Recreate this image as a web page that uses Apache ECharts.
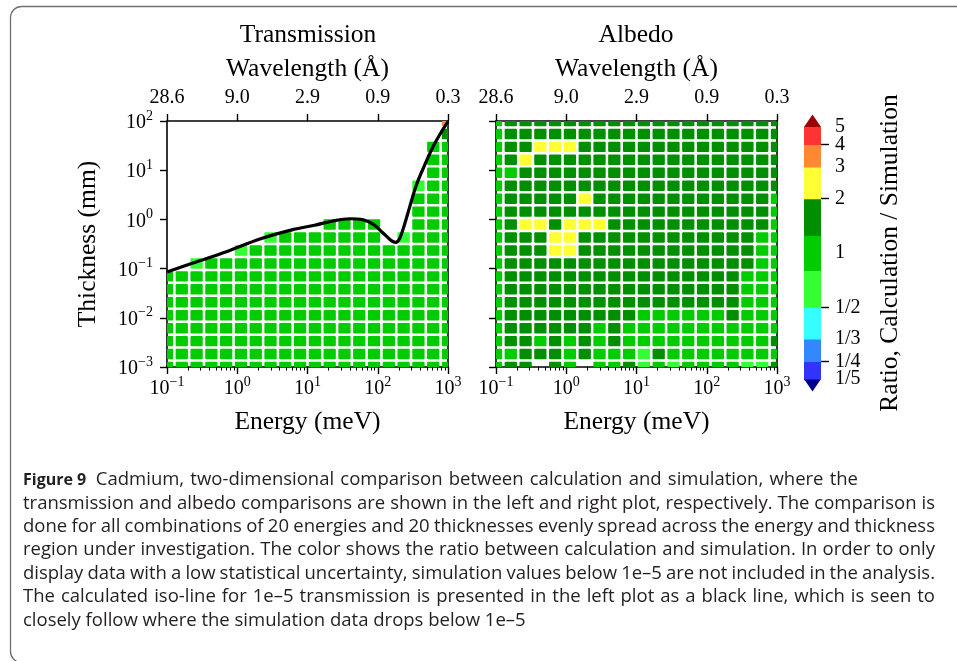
<!DOCTYPE html>
<html>
<head>
<meta charset="utf-8">
<script src="https://cdn.jsdelivr.net/npm/echarts@6/dist/echarts.min.js"></script>
<style>
  html, body { margin: 0; padding: 0; background: #ffffff; }
  #chart { width: 957px; height: 661px; }
</style>
</head>
<body>
<div id="chart"></div>
<script>
// Grid of 20 energies (meV) and 20 thicknesses (mm), log-spaced
const energies = [0.1, 0.16238, 0.26367, 0.42813, 0.69519, 1.1288, 1.8330, 2.9764, 4.8329, 7.8476,
                  12.743, 20.691, 33.598, 54.556, 88.587, 143.84, 233.57, 379.27, 615.85, 1000];
const thicknesses = [0.001, 0.0018330, 0.0033598, 0.0061585, 0.011288, 0.020691, 0.037927, 0.069519, 0.12743, 0.23357,
                     0.42813, 0.78476, 1.4384, 2.6367, 4.8329, 8.8587, 16.238, 29.764, 54.556, 100];

// Axis ticks
const energyTicks = [0.1, 1, 10, 100, 1000];
const energyMinorTicks = [0.2, 0.3, 0.4, 0.5, 0.6, 0.7, 0.8, 0.9,
                          2, 3, 4, 5, 6, 7, 8, 9,
                          20, 30, 40, 50, 60, 70, 80, 90,
                          200, 300, 400, 500, 600, 700, 800, 900];
const wavelengthLabels = ['28.6', '9.0', '2.9', '0.9', '0.3'];
const thicknessTicks = [0.001, 0.01, 0.1, 1, 10, 100];

// Ratio colour scale: one colour below the first edge, one per band, one above the last edge
const ratioEdges = [0.2, 0.25, 1 / 3, 0.5, 0.8, 1.25, 2, 3, 4, 5];
const ratioColors = ['#00008f', '#3333ff', '#3388ff', '#33ffff', '#33ff33', '#00cc00',
                     '#008f00', '#ffff33', '#ff8833', '#ff3333', '#9a0000'];
const colorbarTicks = [0.2, 0.25, 1 / 3, 0.5, 1, 2, 3, 4, 5];
const colorbarTickLabels = ['1/5', '1/4', '1/3', '1/2', '1', '2', '3', '4', '5'];

// 1e-5 transmission iso-line
const isoEnergy    = [0.1, 0.234, 0.70, 2.1, 6.2, 12.6, 23, 40, 62, 86, 119, 156, 180, 205, 240, 285, 355, 466, 612, 805, 1000];
const isoThickness = [0.085, 0.13, 0.22, 0.40, 0.62, 0.76, 0.93, 1.03, 0.98, 0.80, 0.53, 0.37, 0.34, 0.41, 0.78, 1.8, 5.0, 12.8, 30, 60, 97];

// Ratio calculation / simulation, rows from the thickest (top) to the thinnest (bottom),
// columns from the lowest to the highest energy; null = simulation below 1e-5
const transmissionRatio = [
  [null, null, null, null, null, null, null, null, null, null, null, null, null, null, null, null, null, null, null, 3.5],
  [null, null, null, null, null, null, null, null, null, null, null, null, null, null, null, null, null, null, null, 1.6],
  [null, null, null, null, null, null, null, null, null, null, null, null, null, null, null, null, null, null, 1.0, 1.0],
  [null, null, null, null, null, null, null, null, null, null, null, null, null, null, null, null, null, null, 1.0, 1.0],
  [null, null, null, null, null, null, null, null, null, null, null, null, null, null, null, null, null, null, 1.0, 1.0],
  [null, null, null, null, null, null, null, null, null, null, null, null, null, null, null, null, null, 0.7, 1.0, 1.0],
  [null, null, null, null, null, null, null, null, null, null, null, null, null, null, null, null, null, 1.0, 1.0, 1.0],
  [null, null, null, null, null, null, null, null, null, null, null, null, null, null, null, null, null, 1.0, 1.0, 1.0],
  [null, null, null, null, null, null, null, null, null, null, null, 1.0, 1.0, 1.0, 1.0, null, null, 1.0, 1.0, 1.0],
  [null, null, null, null, null, null, null, 0.7, 1.0, 1.0, 1.0, 1.0, 1.0, 1.0, 1.0, null, 0.7, 1.0, 1.0, 1.0],
  [null, null, null, null, null, 0.7, 1.0, 1.0, 1.0, 1.0, 1.0, 1.0, 1.0, 1.0, 1.0, 1.0, 1.0, 1.0, 1.0, 1.0],
  [null, null, 0.7, 1.0, 1.0, 1.0, 1.0, 1.0, 1.0, 1.0, 1.0, 1.0, 1.0, 1.0, 1.0, 1.0, 1.0, 1.0, 1.0, 1.0],
  [1.0, 1.0, 1.0, 1.0, 1.0, 1.0, 1.0, 1.0, 1.0, 1.0, 1.0, 1.0, 1.0, 1.0, 1.0, 1.0, 1.0, 1.0, 1.0, 1.0],
  [1.0, 1.0, 1.0, 1.0, 1.0, 1.0, 1.0, 1.0, 1.0, 1.0, 1.0, 1.0, 1.0, 1.0, 1.0, 1.0, 1.0, 1.0, 1.0, 1.0],
  [1.0, 1.0, 1.0, 1.0, 1.0, 1.0, 1.0, 1.0, 1.0, 1.0, 1.0, 1.0, 1.0, 1.0, 1.0, 1.0, 1.0, 1.0, 1.0, 1.0],
  [1.0, 1.0, 1.0, 1.0, 1.0, 1.0, 1.0, 1.0, 1.0, 1.0, 1.0, 1.0, 1.0, 1.0, 1.0, 1.0, 1.0, 1.0, 1.0, 1.0],
  [1.0, 1.0, 1.0, 1.0, 1.0, 1.0, 1.0, 1.0, 1.0, 1.0, 1.0, 1.0, 1.0, 1.0, 1.0, 1.0, 1.0, 1.0, 1.0, 1.0],
  [1.0, 1.0, 1.0, 1.0, 1.0, 1.0, 1.0, 1.0, 1.0, 1.0, 1.0, 1.0, 1.0, 1.0, 1.0, 1.0, 1.0, 1.0, 1.0, 1.0],
  [1.0, 1.0, 1.0, 1.0, 1.0, 1.0, 1.0, 1.0, 1.0, 1.0, 1.0, 1.0, 1.0, 1.0, 1.0, 1.0, 1.0, 1.0, 1.0, 1.0],
  [1.0, 1.0, 1.0, 1.0, 1.0, 1.0, 1.0, 1.0, 1.0, 1.0, 1.0, 1.0, 1.0, 1.0, 1.0, 1.0, 1.0, 1.0, 1.0, 1.0]
];

const albedoRatio = [
  [1.0, 1.6, 1.6, 1.6, 1.6, 1.6, 1.6, 1.6, 1.6, 1.6, 1.6, 1.6, 1.6, 1.6, 1.6, 1.6, 1.6, 1.6, 1.6, 1.6],
  [1.0, 1.6, 1.6, 1.6, 1.6, 1.6, 1.6, 1.6, 1.6, 1.6, 1.6, 1.6, 1.6, 1.6, 1.6, 1.6, 1.6, 1.6, 1.6, 1.6],
  [1.0, 1.6, 1.6, 2.4, 2.4, 2.4, 1.6, 1.6, 1.6, 1.6, 1.6, 1.6, 1.6, 1.6, 1.6, 1.6, 1.6, 1.6, 1.6, 1.6],
  [1.0, 1.6, 2.4, 1.6, 1.6, 1.6, 1.6, 1.6, 1.6, 1.6, 1.6, 1.6, 1.6, 1.6, 1.6, 1.6, 1.6, 1.6, 1.6, 1.6],
  [1.0, 1.0, 1.6, 1.6, 1.6, 1.6, 1.6, 1.6, 1.6, 1.6, 1.6, 1.6, 1.6, 1.6, 1.6, 1.6, 1.6, 1.6, 1.6, 1.6],
  [1.0, 1.6, 1.6, 1.6, 1.6, 1.6, 1.6, 1.6, 1.6, 1.6, 1.6, 1.6, 1.6, 1.6, 1.6, 1.6, 1.6, 1.6, 1.6, 1.6],
  [1.0, 1.6, 1.6, 1.6, 1.6, 1.6, 2.4, 1.6, 1.6, 1.6, 1.6, 1.6, 1.6, 1.6, 1.6, 1.6, 1.6, 1.6, 1.6, 1.0],
  [1.0, 1.6, 1.6, 1.6, 1.6, 1.6, 1.6, 1.6, 1.6, 1.6, 1.6, 1.6, 1.6, 1.6, 1.6, 1.6, 1.6, 1.6, 1.6, 1.0],
  [1.0, 1.6, 2.4, 2.4, 1.6, 2.4, 2.4, 2.4, 1.6, 1.6, 1.6, 1.6, 1.6, 1.6, 1.6, 1.6, 1.6, 1.6, 1.6, 1.0],
  [1.0, 1.6, 1.6, 1.6, 2.4, 2.4, 1.6, 1.6, 1.6, 1.6, 1.6, 1.6, 1.6, 1.6, 1.6, 1.6, 1.6, 1.6, 1.0, 1.0],
  [1.0, 1.6, 1.6, 1.6, 2.4, 2.4, 1.6, 1.6, 1.6, 1.6, 1.6, 1.6, 1.6, 1.6, 1.6, 1.6, 1.6, 1.6, 1.0, 1.0],
  [1.0, 1.6, 1.6, 1.6, 1.6, 1.6, 1.6, 1.6, 1.6, 1.6, 1.6, 1.6, 1.6, 1.6, 1.6, 1.6, 1.6, 1.6, 1.0, 1.0],
  [1.0, 1.6, 1.6, 1.6, 1.6, 1.6, 1.6, 1.6, 1.6, 1.6, 1.6, 1.6, 1.6, 1.6, 1.6, 1.6, 1.6, 1.0, 1.0, 1.0],
  [1.0, 1.6, 1.6, 1.6, 1.6, 1.6, 1.6, 1.6, 1.6, 1.6, 1.6, 1.6, 1.6, 1.6, 1.6, 1.6, 1.6, 1.0, 1.0, 1.0],
  [1.0, 1.6, 1.6, 1.6, 1.6, 1.6, 1.6, 1.6, 1.6, 1.6, 1.6, 1.6, 1.6, 1.6, 1.6, 1.6, 1.6, 1.0, 1.0, 1.0],
  [1.0, 1.6, 1.6, 1.6, 1.6, 1.6, 1.6, 1.6, 1.6, 1.6, 1.0, 1.0, 1.0, 1.0, 1.0, 1.0, 1.6, 1.0, 1.0, 1.0],
  [1.0, 1.6, 1.6, 1.6, 1.6, 1.6, 1.6, 1.0, 1.6, 1.0, 1.0, 1.0, 1.0, 1.0, 1.0, 1.0, 1.0, 1.0, 1.0, 1.0],
  [1.0, 1.6, 1.6, 1.0, 1.6, 1.0, 1.6, 1.0, 1.6, 1.0, 1.0, 1.0, 1.0, 1.0, 1.0, 1.0, 1.0, 1.0, 1.0, 1.6],
  [1.0, 1.0, 1.6, 1.6, 1.6, 1.0, 1.6, 1.0, 1.0, 1.0, 0.7, 1.6, 1.0, 1.0, 1.0, 1.0, 1.0, 1.0, 1.0, 1.0],
  [1.0, 1.6, 1.6, null, 1.6, 1.0, null, 1.0, 1.0, 1.6, 0.7, 1.0, 0.7, 1.0, 1.0, 1.0, 1.0, 0.7, 0.7, 1.6]
];

const captionTitle = 'Figure 9';
const captionLines = [
  'Cadmium, two-dimensional comparison between calculation and simulation, where the',
  'transmission and albedo comparisons are shown in the left and right plot, respectively. The comparison is',
  'done for all combinations of 20 energies and 20 thicknesses evenly spread across the energy and thickness',
  'region under investigation. The color shows the ratio between calculation and simulation. In order to only',
  'display data with a low statistical uncertainty, simulation values below 1e\u20135 are not included in the analysis.',
  'The calculated iso-line for 1e\u20135 transmission is presented in the left plot as a black line, which is seen to',
  'closely follow where the simulation data drops below 1e\u20135'
];

// ---------------------------------------------------------------------------
const SERIF = '"Liberation Serif", "DejaVu Serif", serif';
const SANS = '"Open Sans", "Noto Sans", sans-serif';
const LABEL_SIZE = 20;
const NAME_SIZE = 25.5;
const CELL_GAP = 1.25;
const CAPTION_SIZE = 18.5;
const CAPTION_BOLD_SIZE = 16;
const CAPTION_LEFT = 23;
const CAPTION_RIGHT = 935;
const CAPTION_FIRST_RIGHT = 858;
const CAPTION_TOP = 480;
const CAPTION_LEADING = 23.4;
const CAPTION_COLOR = '#231f20';

function toCells(matrix) {
  const out = [];
  const rows = matrix.length;
  matrix.forEach(function (row, r) {
    const j = rows - 1 - r;
    row.forEach(function (v, i) {
      if (v !== null) out.push([energies[i], thicknesses[j], v, i, j]);
    });
  });
  return out;
}

// Cell borders sit half-way (in log space) between neighbouring grid values
function cellEdges(arr, k) {
  const n = arr.length;
  const lo = k > 0 ? Math.sqrt(arr[k - 1] * arr[k]) : arr[0] * Math.sqrt(arr[0] / arr[1]);
  const hi = k < n - 1 ? Math.sqrt(arr[k] * arr[k + 1]) : arr[n - 1] * Math.sqrt(arr[n - 1] / arr[n - 2]);
  return [lo, hi];
}

function renderCell(params, api) {
  const i = api.value(3);
  const j = api.value(4);
  const ex = cellEdges(energies, i);
  const ty = cellEdges(thicknesses, j);
  const p0 = api.coord([ex[0], ty[1]]);
  const p1 = api.coord([ex[1], ty[0]]);
  const cs = params.coordSys;
  const shape = echarts.graphic.clipRectByRect(
    { x: p0[0] + CELL_GAP, y: p0[1] + CELL_GAP,
      width: p1[0] - p0[0] - 2 * CELL_GAP, height: p1[1] - p0[1] - 2 * CELL_GAP },
    { x: cs.x, y: cs.y, width: cs.width, height: cs.height });
  if (!shape) return;
  shape.r = 1;
  return { type: 'rect', shape: shape, style: { fill: api.visual('color') } };
}

// Colour bar: one rectangle per band, triangles for the open-ended extremes
const colorbarData = ratioColors.map(function (c, k) {
  const lo = k === 0 ? ratioEdges[0] : ratioEdges[k - 1];
  const hi = k === ratioEdges.length ? ratioEdges[ratioEdges.length - 1] : ratioEdges[k];
  return [0.5, lo, hi, k];
});

function renderColorbar(params, api) {
  const cs = params.coordSys;
  const k = api.value(3);
  const yLo = api.coord([0.5, api.value(1)])[1];
  const yHi = api.coord([0.5, api.value(2)])[1];
  const x0 = cs.x, x1 = cs.x + cs.width, xm = cs.x + cs.width / 2;
  const tri = 0.05 * cs.height;
  const fill = ratioColors[k];
  if (k === 0) {
    return { type: 'polygon', shape: { points: [[x0, yLo], [x1, yLo], [xm, yLo + tri]] }, style: { fill: fill } };
  }
  if (k === ratioColors.length - 1) {
    return { type: 'polygon', shape: { points: [[x0, yHi], [x1, yHi], [xm, yHi - tri]] }, style: { fill: fill } };
  }
  return { type: 'rect', shape: { x: x0, y: yHi, width: cs.width, height: yLo - yHi + 0.5 }, style: { fill: fill } };
}

function powerLabel(v) {
  const e = Math.round(Math.log10(v));
  return '{b|10}{s|' + (e < 0 ? '\u2212' : '') + Math.abs(e) + '}';
}
const powerRich = {
  b: { fontFamily: SERIF, fontSize: LABEL_SIZE, color: '#000', verticalAlign: 'bottom' },
  s: { fontFamily: SERIF, fontSize: 14, color: '#000', verticalAlign: 'bottom', padding: [0, 0, 10, 0] }
};

function findIndex(list, v) {
  for (let k = 0; k < list.length; k++) {
    if (Math.abs(list[k] - v) / list[k] < 1e-4) return k;
  }
  return -1;
}

const axisLineStyle = { color: '#000', width: 1.6 };
const tickLineStyle = { color: '#000', width: 1.4 };
const nameStyle = { fontFamily: SERIF, fontSize: NAME_SIZE, color: '#000' };

function energyAxis(gridIndex, withLabels) {
  return {
    gridIndex: gridIndex, type: 'log', logBase: 10, min: 0.1, max: 1000, position: 'bottom',
    axisLine: { show: true, onZero: false, lineStyle: axisLineStyle },
    axisTick: { show: true, inside: false, length: 7, lineStyle: tickLineStyle, customValues: energyTicks },
    axisLabel: { show: withLabels, customValues: energyTicks, formatter: powerLabel, rich: powerRich, margin: 8,
                 hideOverlap: false },
    splitLine: { show: false }, minorTick: { show: false },
    name: 'Energy (meV)', nameLocation: 'middle', nameGap: 42, nameTextStyle: nameStyle, nameMoveOverlap: false
  };
}
function energyMinorAxis(gridIndex) {
  return {
    gridIndex: gridIndex, type: 'log', logBase: 10, min: 0.1, max: 1000, position: 'bottom',
    axisLine: { show: false },
    axisTick: { show: true, inside: false, length: 3.5, lineStyle: { color: '#000', width: 1 }, customValues: energyMinorTicks },
    axisLabel: { show: false }, splitLine: { show: false }
  };
}
function wavelengthAxis(gridIndex) {
  return {
    gridIndex: gridIndex, type: 'log', logBase: 10, min: 0.1, max: 1000, position: 'top',
    axisLine: { show: true, onZero: false, lineStyle: axisLineStyle },
    axisTick: { show: true, inside: false, length: 7, lineStyle: tickLineStyle, customValues: energyTicks },
    axisLabel: {
      show: true, customValues: energyTicks, margin: 13, hideOverlap: false,
      fontFamily: SERIF, fontSize: LABEL_SIZE, color: '#000',
      formatter: function (v) { return wavelengthLabels[findIndex(energyTicks, v)]; }
    },
    splitLine: { show: false },
    name: 'Wavelength (\u00c5)', nameLocation: 'middle', nameGap: 39, nameTextStyle: nameStyle, nameMoveOverlap: false
  };
}
function thicknessAxis(gridIndex, withLabels) {
  const ax = {
    gridIndex: gridIndex, type: 'log', logBase: 10, min: 0.001, max: 100, position: 'left',
    axisLine: { show: true, onZero: false, lineStyle: axisLineStyle },
    axisTick: { show: true, inside: false, length: 7, lineStyle: tickLineStyle, customValues: thicknessTicks },
    axisLabel: { show: withLabels, customValues: thicknessTicks, formatter: powerLabel, rich: powerRich, margin: 14,
                 hideOverlap: false },
    splitLine: { show: false }
  };
  if (withLabels) {
    ax.name = 'Thickness (mm)';
    ax.nameLocation = 'middle';
    ax.nameRotate = 90;
    ax.nameGap = 66;
    ax.nameTextStyle = nameStyle;
    ax.nameMoveOverlap = false;
  }
  return ax;
}
function spineAxis(gridIndex) {
  return {
    gridIndex: gridIndex, type: 'log', logBase: 10, min: 0.001, max: 100, position: 'right',
    axisLine: { show: true, onZero: false, lineStyle: axisLineStyle },
    axisTick: { show: false }, axisLabel: { show: false }, splitLine: { show: false }
  };
}
// The colour-bar ticks are shared between two overlaid axes (alternate ticks),
// so neighbouring labels near the ends are never dropped as overlapping
function colorbarAxis(parity, withName) {
  const values = colorbarTicks.filter(function (t, k) { return k % 2 === parity; });
  const ax = {
    gridIndex: 2, type: 'log', logBase: 10, min: 0.19995, max: 5.0005, position: 'right',
    axisLine: { show: false },
    axisTick: { show: true, inside: false, length: 8, lineStyle: tickLineStyle, customValues: values },
    axisLabel: {
      show: true, customValues: values, margin: 14, hideOverlap: false,
      fontFamily: SERIF, fontSize: LABEL_SIZE, color: '#000',
      formatter: function (v) { return colorbarTickLabels[findIndex(colorbarTicks, v)]; }
    },
    splitLine: { show: false }
  };
  if (withName) {
    ax.name = 'Ratio, Calculation / Simulation';
    ax.nameLocation = 'middle';
    ax.nameRotate = 90;
    ax.nameGap = 56;
    ax.nameTextStyle = nameStyle;
    ax.nameMoveOverlap = false;
  }
  return ax;
}

const visualPieces = ratioColors.map(function (c, k) {
  const p = { color: c };
  if (k > 0) p.gte = ratioEdges[k - 1];
  if (k < ratioEdges.length) p.lt = ratioEdges[k];
  return p;
});

// Caption: justified paragraph, words placed one by one
const measureCtx = document.createElement('canvas').getContext('2d');
function textWidth(str, size, weight) {
  measureCtx.font = (weight || 'normal') + ' ' + size + 'px ' + SANS;
  return measureCtx.measureText(str).width;
}
function captionText(str, x, y, size, weight) {
  return {
    type: 'text', x: x, y: y, silent: true,
    style: { text: str, fontFamily: SANS, fontSize: size, fontWeight: weight || 'normal',
             fill: CAPTION_COLOR, align: 'left', verticalAlign: 'middle' }
  };
}
const captionGraphics = [];
captionLines.forEach(function (line, k) {
  const y = CAPTION_TOP + k * CAPTION_LEADING;
  const words = line.split(' ');
  let x = CAPTION_LEFT;
  let right = CAPTION_RIGHT;
  if (k === 0) {
    captionGraphics.push(captionText(captionTitle, x, y, CAPTION_BOLD_SIZE, 'bold'));
    x += textWidth(captionTitle, CAPTION_BOLD_SIZE, 'bold') + 2 * textWidth(' ', CAPTION_SIZE);
    right = CAPTION_FIRST_RIGHT;
  }
  const justify = k < captionLines.length - 1;
  const widths = words.map(function (w) { return textWidth(w, CAPTION_SIZE); });
  const total = widths.reduce(function (a, b) { return a + b; }, 0);
  const space = justify ? (right - x - total) / (words.length - 1) : textWidth(' ', CAPTION_SIZE);
  words.forEach(function (w, m) {
    captionGraphics.push(captionText(w, x, y, CAPTION_SIZE));
    x += widths[m] + space;
  });
});

const chart = echarts.init(document.getElementById('chart'), null, { renderer: 'canvas' });
chart.setOption({
  animation: false,
  backgroundColor: '#ffffff',
  textStyle: { fontFamily: SERIF, color: '#000' },
  grid: [
    { left: 167, top: 121, width: 281, height: 246, outerBoundsMode: 'none', containLabel: false },
    { left: 496, top: 121, width: 281, height: 246, outerBoundsMode: 'none', containLabel: false },
    { left: 804, top: 127, width: 17, height: 252, outerBoundsMode: 'none', containLabel: false }
  ],
  xAxis: [
    energyAxis(0, true), energyMinorAxis(0), wavelengthAxis(0),
    energyAxis(1, true), energyMinorAxis(1), wavelengthAxis(1),
    { gridIndex: 2, type: 'value', min: 0, max: 1, show: false }
  ],
  yAxis: [
    thicknessAxis(0, true), spineAxis(0),
    thicknessAxis(1, false), spineAxis(1),
    colorbarAxis(0, true), colorbarAxis(1, false)
  ],
  visualMap: {
    type: 'piecewise', show: false, dimension: 2, seriesIndex: [0, 1], pieces: visualPieces
  },
  series: [
    {
      type: 'custom', name: 'Transmission', xAxisIndex: 0, yAxisIndex: 0,
      dimensions: ['energy', 'thickness', 'ratio', 'i', 'j'], encode: { x: 0, y: 1 },
      renderItem: renderCell, data: toCells(transmissionRatio), z: 2
    },
    {
      type: 'custom', name: 'Albedo', xAxisIndex: 3, yAxisIndex: 2,
      dimensions: ['energy', 'thickness', 'ratio', 'i', 'j'], encode: { x: 0, y: 1 },
      renderItem: renderCell, data: toCells(albedoRatio), z: 2
    },
    {
      type: 'line', name: 'Iso-line 1e-5', xAxisIndex: 0, yAxisIndex: 0,
      data: isoEnergy.map(function (e, k) { return [e, isoThickness[k]]; }),
      smooth: 0.35, showSymbol: false, symbol: 'none', clip: true, z: 5,
      lineStyle: { color: '#000', width: 3.2 }
    },
    {
      type: 'custom', name: 'Colour bar', xAxisIndex: 6, yAxisIndex: 4,
      encode: { x: 0, y: [1, 2] }, renderItem: renderColorbar, data: colorbarData, clip: false, silent: true
    }
  ],
  graphic: [
    { type: 'text', x: 308, y: 35, silent: true,
      style: { text: 'Transmission', fontFamily: SERIF, fontSize: NAME_SIZE, fill: '#000', align: 'center', verticalAlign: 'middle' } },
    { type: 'text', x: 636, y: 35, silent: true,
      style: { text: 'Albedo', fontFamily: SERIF, fontSize: NAME_SIZE, fill: '#000', align: 'center', verticalAlign: 'middle' } },
    { type: 'rect', silent: true, shape: { x: 10.5, y: 6.5, width: 990, height: 656, r: 11 },
      style: { fill: null, stroke: '#707070', lineWidth: 1.3 } }
  ].concat(captionGraphics)
});
</script>
</body>
</html>
